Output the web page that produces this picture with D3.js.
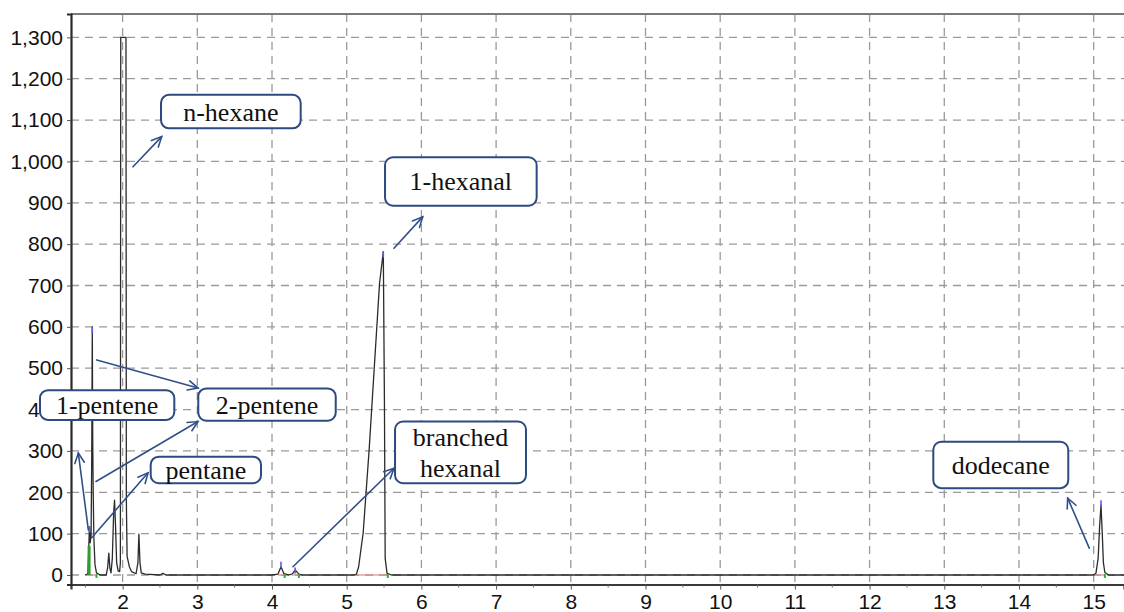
<!DOCTYPE html>
<html>
<head>
<meta charset="utf-8">
<script src="https://cdn.jsdelivr.net/npm/d3@7"></script>
<style>
  html, body { margin: 0; padding: 0; background: #fff; }
  svg { display: block; }
</style>
</head>
<body>
<svg id="chart" width="1124" height="612"></svg>
<script>
// Retention time (min) and detector signal of the chromatogram trace
const traceTime = [
  1.50, 1.535, 1.546, 1.556, 1.566, 1.578, 1.587, 1.594, 1.600, 1.606, 1.615, 1.630, 1.650, 1.700,
  1.780, 1.800, 1.815, 1.830, 1.845, 1.862, 1.880, 1.892, 1.905, 1.920, 1.940, 1.960, 1.970,
  1.975, 2.045, 2.050, 2.060, 2.090, 2.120, 2.180, 2.205, 2.218, 2.232, 2.250, 2.300, 2.500,
  2.540, 2.580, 3.000, 4.000, 4.080, 4.120, 4.160, 4.220, 4.270, 4.310, 4.360, 4.400,
  5.100, 5.130, 5.160, 5.200, 5.220, 5.300, 5.370, 5.440, 5.490, 5.505, 5.515, 5.540, 5.600,
  8.000, 12.000, 15.000, 15.030, 15.060, 15.080, 15.098, 15.115, 15.130, 15.150, 15.200, 15.410
];
const traceSignal = [
  0, 3, 60, 117, 78, 95, 300, 600, 320, 205, 90, 25, 5, 0,
  0, 18, 53, 16, 5, 40, 150, 181, 120, 30, 10, 8, 30,
  1300, 1300, 180, 45, 20, 8, 3, 30, 99, 30, 5, 2, 0,
  4, 0, 0, 0, 2, 20, 3, 0, 2, 12, 2, 0,
  0, 2, 20, 75, 101, 302, 504, 706, 782, 420, 40, 4, 0,
  0, 0, 0, 4, 40, 120, 169, 100, 30, 6, 0, 0
];

// Integration markers drawn by the data system
const apexTime   = [1.556, 1.594, 4.12, 4.31, 5.49, 15.098];
const apexSignal = [117, 600, 32, 18, 782, 181];
const baselineStart = [1.548, 4.08, 4.26, 5.13, 15.02];
const baselineEnd   = [1.650, 4.17, 4.36, 5.55, 15.15];

// Axis ticks
const xTicks = [2, 3, 4, 5, 6, 7, 8, 9, 10, 11, 12, 13, 14, 15];
const yTicks = [0, 100, 200, 300, 400, 500, 600, 700, 800, 900, 1000, 1100, 1200, 1300];

// Compound call-outs: box corners and arrow ends in (time, signal) units
const labelNames = ["n-hexane", "1-hexanal", "branched|hexanal", "1-pentene", "2-pentene", "pentane", "dodecane"];
const labelBoxT0 = [2.514, 5.513, 5.647, 0.894, 3.013, 2.376, 12.853];
const labelBoxT1 = [4.384, 7.543, 7.400, 2.692, 4.853, 3.853, 14.660];
const labelBoxS0 = [1080, 893, 222, 375, 373, 222, 210];
const labelBoxS1 = [1161, 1010, 371, 447, 451, 286, 322];
const arrowFromT = [2.139, 5.633, 4.281, 1.541, 1.653, 1.644, 1.586, 14.941];
const arrowFromS = [987, 790, 20, 109, 520, 226, 90, 65];
const arrowToT   = [2.523, 6.017, 5.633, 1.407, 3.009, 3.009, 2.340, 14.652];
const arrowToS   = [1060, 866, 258, 295, 452, 371, 247, 186];

const svg = d3.select("#chart");
const plotLeft = 71, plotRight = 1124, plotTop = 14, plotBottom = 584.5;

const x = d3.scaleLinear().domain([1.309, 15.406]).range([plotLeft, plotRight]);
const y = d3.scaleLinear().domain([-23, 1356.5]).range([plotBottom, plotTop]);

// Dashed grid
const grid = svg.append("g").attr("stroke", "#9a9a9a").attr("stroke-width", 1.3)
  .attr("stroke-dasharray", "8,6");
grid.selectAll("line.v").data(xTicks).join("line").attr("class", "v")
  .attr("x1", d => x(d)).attr("x2", d => x(d)).attr("y1", plotTop).attr("y2", plotBottom);
grid.selectAll("line.h").data(yTicks).join("line").attr("class", "h")
  .attr("x1", plotLeft).attr("x2", plotRight).attr("y1", d => y(d)).attr("y2", d => y(d));

// Top frame line
svg.append("line").attr("x1", plotLeft).attr("x2", plotRight).attr("y1", plotTop).attr("y2", plotTop)
  .attr("stroke", "#7a7a7a").attr("stroke-width", 2);

// Axes
const xAxis = d3.axisBottom(x).tickValues(xTicks).tickSize(5).tickPadding(5).tickFormat(d3.format("d"));
const gx = svg.append("g").attr("transform", `translate(0,${plotBottom})`).call(xAxis);
gx.select(".domain").attr("stroke", "#3a3a3a").attr("stroke-width", 2.2);
gx.selectAll(".tick line").attr("stroke", "#555");
gx.selectAll("text").attr("font-family", "Liberation Sans, Arial, sans-serif")
  .attr("font-size", 21).attr("fill", "#111");

const xMinor = d3.range(1.5, 15.5, 1);
svg.append("g").selectAll("line").data(xMinor).join("line")
  .attr("x1", d => x(d)).attr("x2", d => x(d)).attr("y1", plotBottom).attr("y2", plotBottom + 3)
  .attr("stroke", "#666").attr("stroke-width", 1);

const yAxis = d3.axisLeft(y).tickValues(yTicks).tickSize(4).tickPadding(4).tickFormat(d3.format(","));
const gy = svg.append("g").attr("transform", `translate(${plotLeft},0)`).call(yAxis);
gy.select(".domain").attr("stroke", "#2a2a2a").attr("stroke-width", 2.2);
gy.selectAll(".tick line").attr("stroke", "#555");
gy.selectAll("text").attr("font-family", "Liberation Sans, Arial, sans-serif")
  .attr("font-size", 21).attr("fill", "#111");

// Chromatogram trace
const traceData = traceTime.map((t, i) => [t, traceSignal[i]]);
const line = d3.line().x(d => x(d[0])).y(d => y(d[1]));
const plot = svg.append("g");
plot.append("path").datum(traceData).attr("d", line)
  .attr("fill", "none").attr("stroke", "#2b2b2b").attr("stroke-width", 1.3)
  .attr("stroke-linejoin", "round");

// Integration baselines (pink) and peak apex markers (blue)
plot.selectAll("line.base").data(baselineStart).join("line").attr("class", "base")
  .attr("x1", d => x(d)).attr("x2", (d, i) => x(baselineEnd[i]))
  .attr("y1", y(0)).attr("y2", y(0))
  .attr("stroke", "#e08a8a").attr("stroke-width", 1.2);
plot.selectAll("rect.end").data(baselineEnd).join("rect").attr("class", "end")
  .attr("x", d => x(d) - 1).attr("y", y(0) - 1).attr("width", 2).attr("height", 4)
  .attr("fill", "#3aa83a");
plot.selectAll("line.apex").data(apexTime).join("line").attr("class", "apex")
  .attr("x1", d => x(d)).attr("x2", d => x(d))
  .attr("y1", (d, i) => y(apexSignal[i])).attr("y2", (d, i) => y(apexSignal[i]) + 6)
  .attr("stroke", "#5a5cf0").attr("stroke-width", 1.6);

// Green fill at the foot of the first peak
plot.append("line")
  .attr("x1", x(1.551)).attr("x2", x(1.551)).attr("y1", y(0)).attr("y2", y(70))
  .attr("stroke", "#2f9a2f").attr("stroke-width", 3);

// Call-out arrows
const arrowColor = "#30508a";
const ag = svg.append("g").attr("stroke", arrowColor).attr("stroke-width", 1.6)
  .attr("fill", "none").attr("stroke-linecap", "round");
arrowFromT.forEach((t, i) => {
  const x1 = x(t), y1 = y(arrowFromS[i]), x2 = x(arrowToT[i]), y2 = y(arrowToS[i]);
  ag.append("line").attr("x1", x1).attr("y1", y1).attr("x2", x2).attr("y2", y2);
  const a = Math.atan2(y2 - y1, x2 - x1), L = 11, w = 0.45;
  ag.append("path").attr("d",
    `M${x2 - L * Math.cos(a - w)},${y2 - L * Math.sin(a - w)}L${x2},${y2}L${x2 - L * Math.cos(a + w)},${y2 - L * Math.sin(a + w)}`);
});

// Call-out boxes
const lg = svg.append("g");
labelNames.forEach((name, i) => {
  const x0 = x(labelBoxT0[i]), x1 = x(labelBoxT1[i]);
  const y0 = y(labelBoxS1[i]), y1 = y(labelBoxS0[i]);
  lg.append("rect").attr("x", x0).attr("y", y0)
    .attr("width", x1 - x0).attr("height", y1 - y0)
    .attr("rx", 8).attr("ry", 8)
    .attr("fill", "#fff").attr("stroke", "#2c4a80").attr("stroke-width", 2);
  const lines = name.split("|");
  const cx = (x0 + x1) / 2, cy = (y0 + y1) / 2;
  const lh = 31;
  lines.forEach((s, k) => {
    lg.append("text").attr("x", cx)
      .attr("y", cy + 9 + (k - (lines.length - 1) / 2) * lh)
      .attr("text-anchor", "middle")
      .attr("font-family", "Liberation Serif, Times New Roman, serif")
      .attr("font-size", 26).attr("fill", "#111")
      .text(s);
  });
});
</script>
</body>
</html>
